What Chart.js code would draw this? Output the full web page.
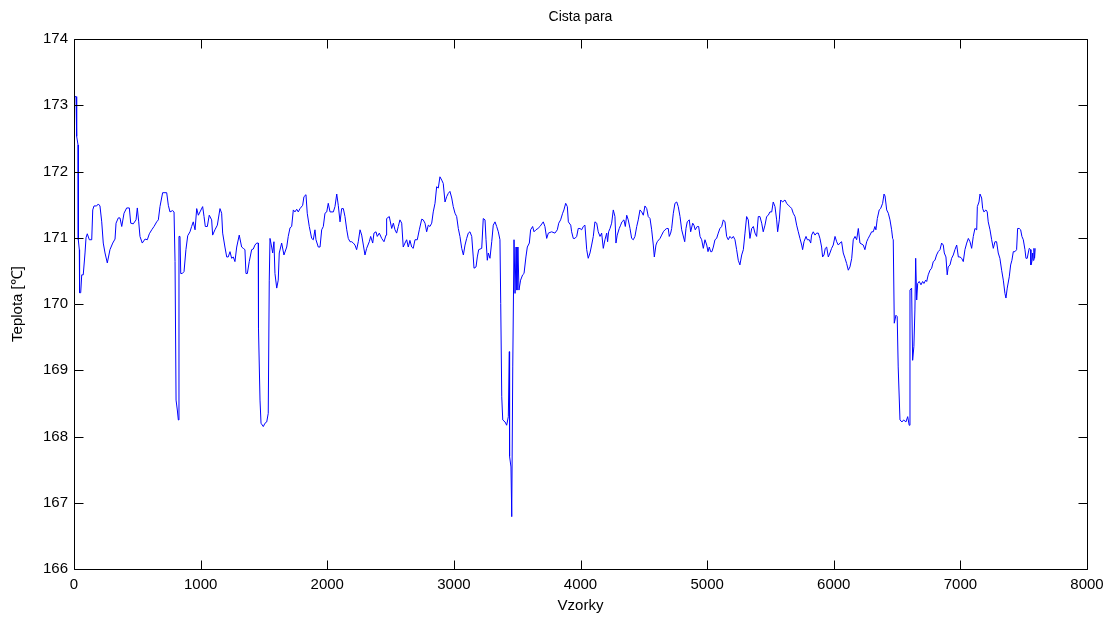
<!DOCTYPE html>
<html>
<head>
<meta charset="utf-8">
<script src="https://cdn.jsdelivr.net/npm/chart.js@4.4.0/dist/chart.umd.min.js"></script>
<style>
  html, body { margin: 0; padding: 0; background: #fff; }
  #wrap { width: 1113px; height: 619px; position: relative; }
</style>
</head>
<body>
<div id="wrap"><canvas id="graf"></canvas></div>
<script>
// vzorky (x) a teplota (y)
const vzorky = [
  0, 16, 21, 32, 34, 42, 44, 53, 61, 73, 87, 95, 105, 121, 140, 148, 158, 179, 192, 205,
  219, 231, 245, 263, 284, 306, 324, 332, 350, 363, 377, 395, 416, 437, 448, 468, 490, 500, 511, 521,
  539, 561, 579, 595, 614, 632, 653, 666, 679, 700, 711, 732, 745, 758, 779, 790, 798, 806, 816, 824,
  829, 837, 843, 855, 869, 884, 898, 916, 929, 942, 956, 969, 982, 995, 1016, 1027, 1037, 1053, 1068, 1087,
  1095, 1113, 1132, 1153, 1166, 1174, 1192, 1206, 1218, 1232, 1245, 1258, 1271, 1285, 1305, 1324, 1337, 1350, 1358, 1369,
  1384, 1403, 1416, 1429, 1443, 1455, 1457, 1469, 1477, 1495, 1508, 1522, 1534, 1542, 1548, 1561, 1569, 1579, 1587, 1601,
  1613, 1621, 1640, 1658, 1680, 1692, 1706, 1719, 1732, 1745, 1759, 1771, 1785, 1806, 1816, 1832, 1842, 1858, 1877, 1890,
  1903, 1911, 1929, 1943, 1956, 1969, 1982, 1996, 2008, 2022, 2048, 2061, 2075, 2087, 2101, 2114, 2127, 2140, 2154, 2166,
  2180, 2193, 2206, 2219, 2232, 2245, 2259, 2272, 2285, 2298, 2311, 2332, 2343, 2359, 2369, 2385, 2395, 2411, 2430, 2448,
  2464, 2469, 2490, 2509, 2522, 2535, 2548, 2561, 2574, 2588, 2600, 2614, 2627, 2640, 2653, 2667, 2679, 2693, 2711, 2727,
  2746, 2758, 2772, 2785, 2798, 2811, 2825, 2837, 2851, 2864, 2877, 2890, 2904, 2916, 2930, 2943, 2956, 2969, 2983, 2995,
  3009, 3022, 3035, 3048, 3062, 3075, 3088, 3101, 3114, 3127, 3141, 3153, 3159, 3175, 3185, 3196, 3220, 3232, 3246, 3254,
  3264, 3272, 3285, 3299, 3311, 3325, 3338, 3351, 3364, 3370, 3378, 3386, 3404, 3417, 3430, 3438, 3440, 3451, 3457, 3465,
  3475, 3483, 3491, 3498, 3506, 3514, 3527, 3543, 3554, 3569, 3580, 3596, 3606, 3622, 3633, 3648, 3664, 3680, 3706, 3719,
  3733, 3746, 3772, 3798, 3817, 3828, 3843, 3859, 3869, 3883, 3896, 3904, 3923, 3930, 3943, 3956, 3970, 3982, 3996, 4009,
  4022, 4035, 4049, 4061, 4075, 4088, 4101, 4114, 4128, 4140, 4154, 4167, 4180, 4193, 4207, 4214, 4222, 4233, 4246, 4259,
  4272, 4280, 4290, 4306, 4317, 4327, 4343, 4354, 4365, 4377, 4391, 4404, 4417, 4430, 4444, 4456, 4470, 4483, 4496, 4509,
  4523, 4535, 4549, 4562, 4575, 4583, 4596, 4606, 4628, 4641, 4654, 4667, 4681, 4693, 4701, 4712, 4720, 4733, 4746, 4760,
  4772, 4786, 4799, 4823, 4833, 4843, 4859, 4870, 4886, 4896, 4906, 4922, 4933, 4944, 4957, 4970, 4983, 4997, 5007, 5017,
  5028, 5038, 5049, 5062, 5075, 5088, 5101, 5115, 5128, 5141, 5154, 5167, 5180, 5194, 5207, 5220, 5233, 5246, 5259, 5273,
  5286, 5299, 5312, 5325, 5338, 5352, 5365, 5378, 5391, 5404, 5417, 5431, 5443, 5457, 5470, 5483, 5496, 5510, 5522, 5536,
  5549, 5557, 5570, 5581, 5596, 5615, 5628, 5641, 5654, 5668, 5680, 5694, 5707, 5720, 5733, 5747, 5754, 5765, 5781, 5791,
  5807, 5818, 5825, 5838, 5852, 5865, 5878, 5891, 5904, 5912, 5923, 5933, 5944, 5957, 5970, 5983, 5996, 6010, 6023, 6036,
  6049, 6062, 6075, 6089, 6102, 6115, 6128, 6142, 6154, 6168, 6181, 6194, 6207, 6233, 6246, 6260, 6272, 6286, 6299, 6312,
  6325, 6333, 6344, 6359, 6370, 6386, 6397, 6405, 6418, 6431, 6444, 6457, 6465, 6470, 6478, 6491, 6501, 6509, 6523, 6539,
  6552, 6570, 6584, 6596, 6602, 6615, 6623, 6633, 6641, 6647, 6655, 6663, 6675, 6689, 6702, 6712, 6726, 6734, 6746, 6760,
  6773, 6786, 6799, 6812, 6825, 6839, 6852, 6865, 6873, 6886, 6896, 6904, 6918, 6931, 6944, 6957, 6971, 6984, 6997, 7010,
  7023, 7036, 7050, 7063, 7076, 7089, 7102, 7115, 7129, 7134, 7147, 7155, 7168, 7176, 7186, 7202, 7212, 7220, 7234, 7247,
  7260, 7273, 7286, 7299, 7312, 7326, 7339, 7352, 7360, 7370, 7386, 7397, 7407, 7418, 7431, 7444, 7452, 7465, 7476, 7486,
  7497, 7510, 7518, 7528, 7536, 7544, 7555, 7557, 7565, 7571, 7575, 7581, 7586, 7591
];
const teplota = [
  173.13, 173.13, 172.53, 172.40, 170.97, 170.82, 170.17, 170.17, 170.44, 170.44, 170.77, 171.00, 171.06, 170.97, 170.97, 171.42, 171.48, 171.48, 171.51, 171.48,
  171.24, 170.92, 170.77, 170.62, 170.82, 170.92, 170.98, 171.22, 171.30, 171.30, 171.17, 171.37, 171.45, 171.45, 171.22, 171.21, 171.27, 171.45, 171.24, 171.02,
  170.92, 170.98, 170.97, 171.06, 171.12, 171.17, 171.24, 171.27, 171.47, 171.68, 171.68, 171.68, 171.49, 171.39, 171.41, 171.39, 170.64, 168.55, 168.40, 168.25,
  171.02, 171.02, 170.46, 170.46, 170.49, 170.82, 171.03, 171.09, 171.17, 171.24, 171.12, 171.44, 171.34, 171.39, 171.47, 171.32, 171.17, 171.17, 171.34, 171.27,
  171.04, 171.12, 171.19, 171.44, 171.37, 171.07, 170.86, 170.71, 170.71, 170.79, 170.69, 170.71, 170.64, 170.86, 171.04, 170.86, 170.84, 170.82, 170.46, 170.46,
  170.64, 170.82, 170.83, 170.89, 170.92, 170.92, 169.63, 168.55, 168.20, 168.15, 168.20, 168.22, 168.35, 170.36, 170.99, 170.86, 170.77, 170.94, 170.46, 170.24,
  170.36, 170.77, 170.92, 170.74, 170.86, 171.02, 171.15, 171.17, 171.42, 171.39, 171.43, 171.39, 171.44, 171.49, 171.62, 171.65, 171.37, 171.17, 170.99, 170.97,
  171.12, 170.97, 170.86, 170.86, 171.12, 171.17, 171.37, 171.39, 171.52, 171.39, 171.39, 171.47, 171.66, 171.49, 171.24, 171.44, 171.44, 171.32, 171.12, 170.99,
  170.94, 170.94, 170.92, 170.89, 170.82, 170.94, 171.12, 171.04, 170.89, 170.74, 170.84, 170.94, 171.02, 170.92, 171.07, 171.09, 171.02, 171.07, 170.99, 170.94,
  171.04, 171.29, 171.32, 171.14, 171.22, 171.12, 171.07, 171.17, 171.27, 171.22, 170.86, 170.92, 170.97, 170.86, 170.96, 170.86, 170.84, 170.97, 170.97, 171.12,
  171.28, 171.27, 171.22, 171.09, 171.19, 171.17, 171.22, 171.39, 171.52, 171.77, 171.75, 171.92, 171.87, 171.82, 171.54, 171.62, 171.67, 171.70, 171.60, 171.47,
  171.37, 171.32, 171.14, 171.02, 170.84, 170.74, 170.89, 170.99, 171.07, 171.09, 171.02, 170.71, 170.54, 170.56, 170.71, 170.82, 170.84, 171.29, 171.27, 170.97,
  170.66, 170.77, 170.69, 170.94, 171.19, 171.24, 171.17, 171.09, 170.97, 170.01, 168.60, 168.25, 168.22, 168.17, 168.30, 169.28, 167.70, 167.54, 166.79, 169.05,
  170.97, 170.16, 170.86, 170.21, 170.86, 170.21, 170.36, 170.44, 170.46, 170.71, 170.86, 170.92, 171.12, 171.17, 171.09, 171.12, 171.14, 171.17, 171.24, 171.17,
  170.99, 171.07, 171.09, 171.07, 171.12, 171.22, 171.27, 171.37, 171.42, 171.52, 171.47, 171.24, 171.19, 171.09, 170.99, 170.99, 171.02, 171.14, 171.14, 171.12,
  171.17, 171.19, 170.82, 170.69, 170.77, 170.89, 171.02, 171.24, 171.22, 171.09, 171.02, 171.07, 170.84, 170.97, 171.07, 170.94, 171.09, 171.14, 171.22, 171.42,
  171.32, 170.92, 171.04, 171.14, 171.19, 171.24, 171.27, 171.17, 171.34, 171.27, 171.14, 170.99, 170.97, 171.02, 171.17, 171.27, 171.42, 171.39, 171.34, 171.48,
  171.44, 171.32, 171.29, 171.12, 170.89, 170.71, 170.89, 170.94, 170.99, 171.04, 171.09, 171.12, 171.14, 171.14, 171.02, 171.07, 171.14, 171.37, 171.52, 171.54,
  171.47, 171.32, 171.12, 170.94, 171.14, 171.24, 171.27, 171.09, 171.22, 171.19, 171.12, 171.17, 171.17, 171.02, 170.97, 170.84, 170.97, 170.89, 170.79, 170.86,
  170.79, 170.79, 170.86, 170.97, 170.99, 171.07, 171.14, 171.17, 171.27, 171.24, 171.02, 170.97, 171.02, 170.99, 171.02, 170.97, 170.82, 170.66, 170.59, 170.74,
  170.82, 171.07, 171.32, 171.27, 170.99, 171.14, 171.17, 171.07, 171.02, 171.32, 171.32, 171.22, 171.09, 171.19, 171.32, 171.34, 171.39, 171.39, 171.54, 171.47,
  171.27, 171.09, 171.27, 171.57, 171.54, 171.57, 171.52, 171.49, 171.47, 171.44, 171.37, 171.32, 171.19, 171.09, 170.99, 170.89, 170.82, 170.94, 171.02, 170.97,
  170.97, 170.92, 171.04, 171.09, 171.04, 171.07, 171.07, 170.99, 170.86, 170.71, 170.74, 170.84, 170.86, 170.71, 170.77, 170.84, 170.89, 171.02, 170.94, 170.89,
  170.92, 170.94, 170.77, 170.69, 170.61, 170.51, 170.56, 170.69, 170.97, 171.02, 170.97, 171.14, 170.92, 170.89, 170.82, 170.94, 170.99, 171.04, 171.09, 171.09,
  171.17, 171.12, 171.29, 171.42, 171.44, 171.52, 171.66, 171.63, 171.42, 171.37, 171.27, 171.12, 170.99, 170.97, 169.71, 169.83, 169.81, 169.05, 168.25, 168.22,
  168.25, 168.22, 168.30, 168.17, 170.21, 170.24, 169.15, 169.36, 169.91, 170.69, 170.06, 170.31, 170.34, 170.29, 170.34, 170.31, 170.36, 170.34, 170.44, 170.51,
  170.54, 170.64, 170.66, 170.74, 170.79, 170.82, 170.92, 170.89, 170.77, 170.71, 170.44, 170.56, 170.59, 170.69, 170.74, 170.82, 170.89, 170.71, 170.71, 170.69,
  170.64, 170.82, 170.92, 170.99, 170.94, 170.84, 171.02, 171.14, 171.12, 171.47, 171.54, 171.66, 171.60, 171.44, 171.39, 171.42, 171.39, 171.24, 171.12, 170.97,
  170.84, 170.94, 170.94, 170.77, 170.69, 170.51, 170.36, 170.16, 170.09, 170.24, 170.41, 170.59, 170.66, 170.79, 170.79, 170.82, 171.14, 171.14, 171.12, 171.02,
  170.97, 170.82, 170.69, 170.69, 170.77, 170.84, 170.82, 170.59, 170.64, 170.77, 170.66, 170.84, 170.69, 170.84
];
const xTicks = [0, 1000, 2000, 3000, 4000, 5000, 6000, 7000, 8000];
const yTicks = [166, 167, 168, 169, 170, 171, 172, 173, 174];

const body = vzorky.map((v, i) => ({ x: v, y: teplota[i] }));

const pismo = 'Liberation Sans, Arial, Helvetica, sans-serif';

// ramecek a tiky dovnitr jako v matlabu
const ramecek = {
  id: 'ramecek',
  afterDatasetsDraw(chart) {
    const { ctx, chartArea: a, scales } = chart;
    const l = Math.round(a.left) + 0.5, r = Math.round(a.right) + 0.5;
    const t = Math.round(a.top) + 0.5, b = Math.round(a.bottom) + 0.5;
    const len = 9;
    ctx.save();
    ctx.strokeStyle = '#000';
    ctx.lineWidth = 1;
    ctx.beginPath();
    ctx.rect(l, t, r - l, b - t);
    xTicks.forEach(v => {
      const px = Math.round(scales.x.getPixelForValue(v)) + 0.5;
      ctx.moveTo(px, b); ctx.lineTo(px, b - len);
      ctx.moveTo(px, t); ctx.lineTo(px, t + len);
    });
    yTicks.forEach(v => {
      const py = Math.round(scales.y.getPixelForValue(v)) + 0.5;
      ctx.moveTo(l, py); ctx.lineTo(l + len, py);
      ctx.moveTo(r, py); ctx.lineTo(r - len, py);
    });
    ctx.stroke();
    ctx.restore();
  }
};

new Chart(document.getElementById('graf'), {
  type: 'scatter',
  data: {
    datasets: [{
      data: body,
      showLine: true,
      borderColor: '#0000ff',
      borderWidth: 1,
      pointRadius: 0,
      tension: 0
    }]
  },
  options: {
    responsive: true,
    maintainAspectRatio: false,
    animation: false,
    devicePixelRatio: 1,
    layout: { padding: { left: 0, right: 26, top: 0, bottom: 0 } },
    plugins: {
      legend: { display: false },
      tooltip: { enabled: false },
      title: {
        display: true,
        fullSize: false,
        text: 'Cista para',
        color: '#000',
        font: { family: pismo, size: 14, weight: 'normal' },
        padding: { top: 9, bottom: 13.2 }
      }
    },
    scales: {
      x: {
        type: 'linear',
        min: 0,
        max: 8000,
        afterFit(s) { s.height = 50; },
        afterBuildTicks(s) { s.ticks = xTicks.map(v => ({ value: v })); },
        grid: { display: false, drawTicks: false },
        border: { display: false },
        ticks: { color: '#000', padding: 7, maxRotation: 0, callback: v => String(v), font: { family: pismo, size: 15 } },
        title: { display: true, text: 'Vzorky', color: '#000', padding: { top: 0, bottom: 4 }, font: { family: pismo, size: 15 } }
      },
      y: {
        type: 'linear',
        min: 166,
        max: 174,
        afterFit(s) { s.width = 74; },
        afterBuildTicks(s) { s.ticks = yTicks.map(v => ({ value: v })); },
        grid: { display: false, drawTicks: false },
        border: { display: false },
        ticks: { color: '#000', padding: 6, callback: v => String(v), font: { family: pismo, size: 15 } },
        title: { display: true, text: 'Teplota [\u2103]', color: '#000', padding: { top: 9, bottom: 0 }, font: { family: pismo, size: 15 } }
      }
    }
  },
  plugins: [ramecek]
});
</script>
</body>
</html>
